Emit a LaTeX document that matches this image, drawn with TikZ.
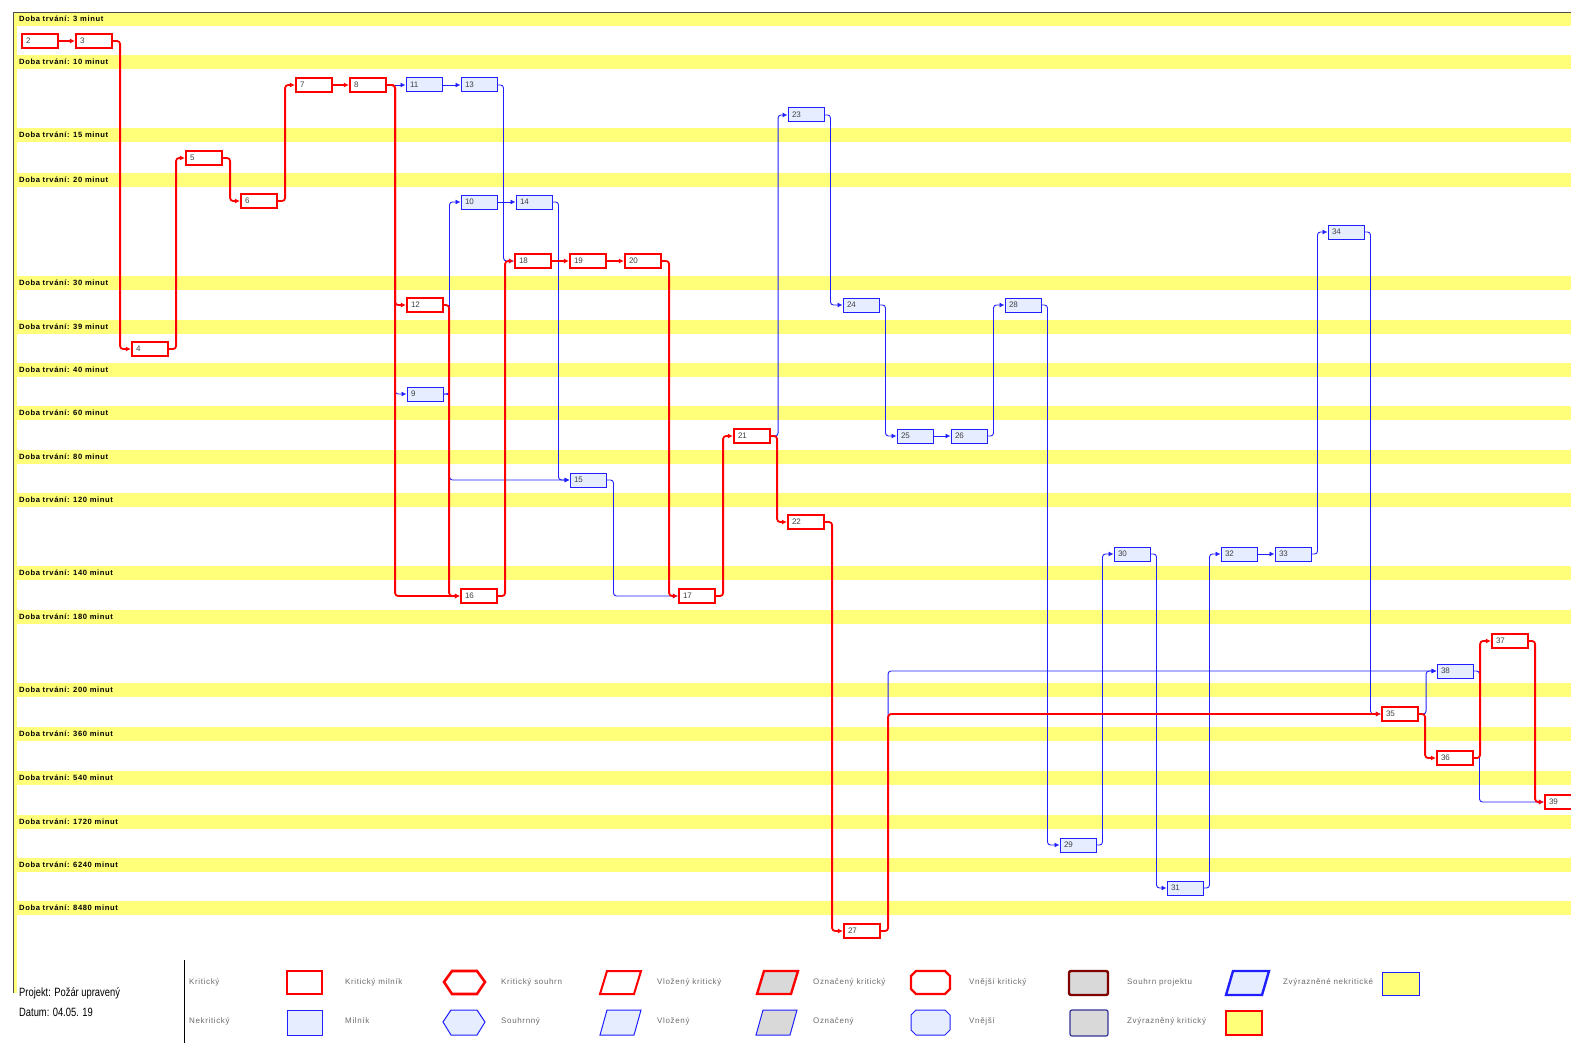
\documentclass[tikz,border=0pt]{standalone}
\usepackage{fontspec}
\setmainfont{Liberation Sans}
\newfontfamily\legfont[LetterSpace=8]{Liberation Sans}
\newfontfamily\bandfont[LetterSpace=8]{Liberation Sans}
\newfontfamily\projfont[FakeStretch=0.78]{Liberation Sans}
\usetikzlibrary{arrows.meta}
\definecolor{bandy}{rgb}{1,1,0.48}
\definecolor{cred}{rgb}{1,0,0}
\definecolor{cblue}{rgb}{0.12,0.12,1}
\definecolor{lblue}{rgb}{0.9,0.93,1}
\definecolor{lgray}{rgb}{0.85,0.85,0.85}
\definecolor{legtext}{rgb}{0.42,0.42,0.42}
\definecolor{maroon}{rgb}{0.5,0,0}
\definecolor{navy}{rgb}{0.2,0.2,0.6}
\begin{document}
\begin{tikzpicture}[x=1pt,y=-1pt,
  task/.style={rectangle, minimum width=36pt, minimum height=14pt, inner sep=0pt, inner xsep=4pt, text width=28pt, align=left, font=\fontsize{8}{8}\selectfont, text=black!75},
  crit/.style={task, draw=cred, line width=2.2pt, fill=white},
  ncrit/.style={task, draw=cblue, line width=1pt, fill=lblue},
  cl/.style={draw=cred, line width=1.8pt, rounded corners=3pt, -{Latex[length=5pt,width=5pt]}},
  nl/.style={draw=cblue, line width=0.9pt, rounded corners=3pt, -{Latex[length=5pt,width=5pt]}},
  bandlbl/.style={anchor=west, font=\bandfont\bfseries\fontsize{7.6}{8}\selectfont, inner sep=0pt},
  legt/.style={anchor=west, font=\legfont\fontsize{8}{9}\selectfont, text=legtext, inner sep=0pt},
]
\useasboundingbox (0,0) rectangle (1571,1046);
% bands
\foreach \y/\t in {19/3,62/10,135/15,180/20,283/30,327/39,370/40,413/60,457/80,500/120,573/140,617/180,690/200,734/360,778/540,822/1720,865/6240,908/8480}{
  \fill[bandy] (15,\y-7) rectangle (1571,\y+7);
  \node[bandlbl] (b\t) at (19,\y) {Doba trvání: \t\ minut};
}
\fill[bandy] (13.5,12) rectangle (17,993);
% frame
\draw[line width=0.9pt, black!70] (13,993) -- (13,12) -- (1571,12);

% nodes
\node[crit] (n2) at (40,41) {2};
\node[crit] (n3) at (94,41) {3};
\node[crit] (n4) at (150,349) {4};
\node[crit] (n5) at (204,158) {5};
\node[crit] (n6) at (259,201) {6};
\node[crit] (n7) at (314,85) {7};
\node[crit] (n8) at (368,85) {8};
\node[ncrit] (n11) at (424,85) {11};
\node[ncrit] (n13) at (479,85) {13};
\node[ncrit] (n10) at (479,202) {10};
\node[ncrit] (n14) at (534,202) {14};
\node[crit] (n18) at (533,261) {18};
\node[crit] (n19) at (588,261) {19};
\node[crit] (n20) at (643,261) {20};
\node[crit] (n12) at (425,305) {12};
\node[ncrit] (n9) at (425,394) {9};
\node[ncrit] (n15) at (588,480) {15};
\node[crit] (n16) at (479,596) {16};
\node[crit] (n17) at (697,596) {17};
\node[crit] (n21) at (752,436) {21};
\node[crit] (n22) at (806,522) {22};
\node[ncrit] (n23) at (806,115) {23};
\node[ncrit] (n24) at (861,305) {24};
\node[ncrit] (n25) at (915,436) {25};
\node[ncrit] (n26) at (969,436) {26};
\node[ncrit] (n28) at (1023,305) {28};
\node[crit] (n27) at (862,931) {27};
\node[ncrit] (n29) at (1078,845) {29};
\node[ncrit] (n30) at (1132,554) {30};
\node[ncrit] (n31) at (1185,888) {31};
\node[ncrit] (n32) at (1239,554) {32};
\node[ncrit] (n33) at (1293,554) {33};
\node[ncrit] (n34) at (1346,232) {34};
\node[crit] (n35) at (1400,714) {35};
\node[crit] (n36) at (1455,758) {36};
\node[crit] (n37) at (1510,641) {37};
\node[ncrit] (n38) at (1455,671) {38};
\node[crit] (n39) at (1563,802) {39};

% non-critical connectors
\draw[nl] (n8.east) -- (n11.west);
\draw[nl] (n8.east) -- ++(8,0) |- (n9.west);
\draw[nl] (n11.east) -- (n13.west);
\draw[nl] (n13.east) -- ++(6,0) |- (n18.west);
\draw[nl] (n9.east) -- ++(6,0) |- (n10.west);
\draw[nl] (n9.east) -- ++(6,0) |- (n15.west);
\draw[nl] (n10.east) -- (n14.west);
\draw[nl] (n14.east) -- ++(6,0) |- (n15.west);
\draw[nl] (n15.east) -- ++(7,0) |- (n17.west);
\draw[nl] (n21.east) -- ++(7,0) |- (n23.west);
\draw[nl] (n23.east) -- ++(6,0) |- (n24.west);
\draw[nl] (n24.east) -- ++(6,0) |- (n25.west);
\draw[nl] (n25.east) -- (n26.west);
\draw[nl] (n26.east) -- ++(6,0) |- (n28.west);
\draw[nl] (n28.east) -- ++(6,0) |- (n29.west);
\draw[nl] (n29.east) -- ++(6,0) |- (n30.west);
\draw[nl] (n30.east) -- ++(6,0) |- (n31.west);
\draw[nl] (n31.east) -- ++(6,0) |- (n32.west);
\draw[nl] (n32.east) -- (n33.west);
\draw[nl] (n33.east) -- ++(6,0) |- (n34.west);
\draw[nl] (n34.east) -- ++(6,0) |- (n35.west);
\draw[nl] (n27.east) -- ++(7,0) |- (n38.west);
\draw[nl] (n35.east) -- ++(7,0) |- (n38.west);
\draw[nl] (n38.east) -- ++(6,0) |- (n39.west);

% critical connectors
\draw[cl] (n2.east) -- (n3.west);
\draw[cl] (n3.east) -- ++(7,0) |- (n4.west);
\draw[cl] (n4.east) -- ++(7,0) |- (n5.west);
\draw[cl] (n5.east) -- ++(7,0) |- (n6.west);
\draw[cl] (n6.east) -- ++(7,0) |- (n7.west);
\draw[cl] (n7.east) -- (n8.west);
\draw[cl] (n8.east) -- ++(8,0) |- (n12.west);
\draw[cl] (n8.east) -- ++(8,0) |- (n16.west);
\draw[cl] (n12.east) -- ++(5,0) |- (n16.west);
\draw[cl] (n16.east) -- ++(7,0) |- (n18.west);
\draw[cl] (n18.east) -- (n19.west);
\draw[cl] (n19.east) -- (n20.west);
\draw[cl] (n20.east) -- ++(7,0) |- (n17.west);
\draw[cl] (n17.east) -- ++(7,0) |- (n21.west);
\draw[cl] (n21.east) -- ++(6,0) |- (n22.west);
\draw[cl] (n22.east) -- ++(7,0) |- (n27.west);
\draw[cl] (n27.east) -- ++(7,0) |- (n35.west);
\draw[cl] (n35.east) -- ++(6,0) |- (n36.west);
\draw[cl] (n36.east) -- ++(6,0) |- (n37.west);
\draw[cl] (n37.east) -- ++(6,0) |- (n39.west);

% footer
\node[anchor=west, inner sep=0pt, font=\projfont\fontsize{12}{13}\selectfont] (proj) at (19,993) {Projekt: Požár upravený};
\node[anchor=west, inner sep=0pt, font=\projfont\fontsize{12}{13}\selectfont] (datum) at (19,1012) {Datum: 04.05. 19};
\draw[line width=0.8pt] (184,960) -- (184,1043);

% legend row 1
\node[legt] (l1) at (189,982) {Kritický};
\draw[cred, line width=2.6pt, fill=white] (287,971) rectangle (322,994);
\node[legt] (l2) at (345,982) {Kritický milník};
\draw[cred, line width=2.6pt, fill=white] (444,982) -- (452,971) -- (477,971) -- (485,982) -- (477,994) -- (452,994) -- cycle;
\node[legt] (l3) at (501,982) {Kritický souhrn};
\draw[cred, line width=2pt, fill=white] (600,994) -- (607,971) -- (641,971) -- (634,994) -- cycle;
\node[legt] (l4) at (657,982) {Vložený kritický};
\draw[cred, line width=2.4pt, fill=lgray] (757,994) -- (764,971) -- (798,971) -- (791,994) -- cycle;
\node[legt] (l5) at (813,982) {Označený kritický};
\draw[cred, line width=2.4pt, fill=white] (916,971) -- (945,971) -- (950,976) -- (950,989) -- (945,994) -- (916,994) -- (911,989) -- (911,976) -- cycle;
\node[legt] (l6) at (969,982) {Vnější kritický};
\draw[maroon, line width=2.4pt, fill=lgray, rounded corners=2pt] (1069,971) rectangle (1108,995);
\node[legt] (l7) at (1127,982) {Souhrn projektu};
\draw[cblue, line width=2.4pt, fill=lblue] (1226,995) -- (1233,971) -- (1269,971) -- (1262,995) -- cycle;
\node[legt] (l8) at (1283,982) {Zvýrazněné nekritické};
\draw[cblue, line width=1pt, fill=bandy] (1382,972) rectangle (1419,995);

% legend row 2
\node[legt] (m1) at (189,1021) {Nekritický};
\draw[cblue, line width=1pt, fill=lblue] (287,1010) rectangle (322,1035);
\node[legt] (m2) at (345,1021) {Milník};
\draw[cblue, line width=1pt, fill=lblue] (443,1022) -- (451,1010) -- (477,1010) -- (485,1022) -- (477,1035) -- (451,1035) -- cycle;
\node[legt] (m3) at (501,1021) {Souhrnný};
\draw[cblue, line width=1pt, fill=lblue] (600,1035) -- (607,1010) -- (641,1010) -- (634,1035) -- cycle;
\node[legt] (m4) at (657,1021) {Vložený};
\draw[cblue, line width=1pt, fill=lgray] (756,1035) -- (763,1010) -- (797,1010) -- (790,1035) -- cycle;
\node[legt] (m5) at (813,1021) {Označený};
\draw[cblue, line width=1pt, fill=lblue] (916,1010) -- (945,1010) -- (950,1015) -- (950,1030) -- (945,1035) -- (916,1035) -- (911,1030) -- (911,1015) -- cycle;
\node[legt] (m6) at (969,1021) {Vnější};
\draw[navy, line width=1.2pt, fill=lgray, rounded corners=2pt] (1070,1010) rectangle (1108,1036);
\node[legt] (m7) at (1127,1021) {Zvýrazněný kritický};
\draw[cred, line width=2.6pt, fill=bandy] (1226,1011) rectangle (1262,1035);
\end{tikzpicture}
\end{document}
